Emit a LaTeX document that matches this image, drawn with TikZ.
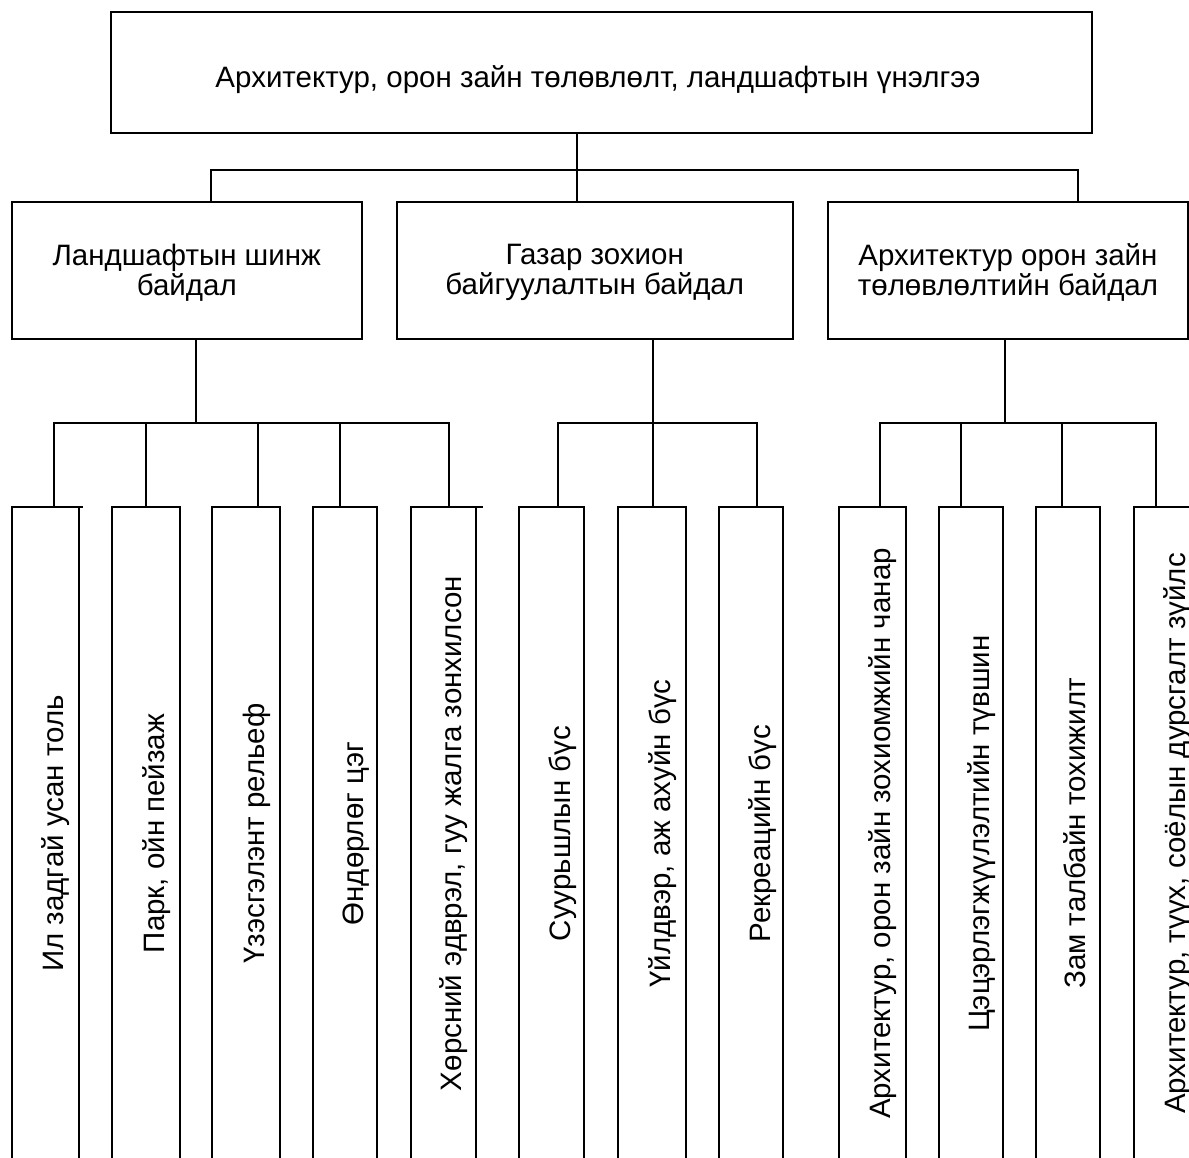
\documentclass[tikz,border=0pt]{standalone}
\usepackage{fontspec}
\setmainfont{Liberation Sans}
\usetikzlibrary{calc}
\begin{document}
\begin{tikzpicture}[x=1pt,y=-1pt,
  box/.style={draw, line width=2pt, inner sep=0pt, outer sep=0pt, anchor=north west},
  conn/.style={line width=2pt, line cap=rect},
  hlbl/.style={font=\fontsize{29.5}{29.5}\selectfont, align=center, inner sep=0pt},
  vlbl/.style={font=\fontsize{29.5}{32}\selectfont, rotate=90, anchor=base, inner sep=0pt},
]
\useasboundingbox (0,0) rectangle (1189,1157);
\clip (0,0) rectangle (1189,1157);
\fill[white] (0,0) rectangle (1189,1157);

% top box
\node[box, minimum width=981pt, minimum height=121pt] (top) at (111,12) {};
\node[hlbl, anchor=base] (toptxt) at (598,87) {Архитектур, орон зайн төлөвлөлт, ландшафтын үнэлгээ};

% second level
\node[box, minimum width=350.5pt, minimum height=137pt] (b1) at (11.5,202) {};
\node[box, minimum width=395.5pt, minimum height=137pt] (b2) at (397,202) {};
\node[box, minimum width=360pt, minimum height=137pt] (b3) at (828,202) {};
\node[hlbl] (b1t) at ([yshift=-2pt]b1.center) {Ландшафтын шинж\\байдал};
\node[hlbl] (b2t) at ([yshift=-2pt]b2.center) {Газар зохион\\байгуулалтын байдал};
\node[hlbl] (b3t) at ([yshift=-2pt]b3.center) {Архитектур орон зайн\\төлөвлөлтийн байдал};

% level 1 connectors
\coordinate (h0) at (577,170);
\coordinate (h1) at (211,170);
\coordinate (h3) at (1078,170);
\draw[conn] (top.south -| h0) -- (h0);
\draw[conn] (h1) -- (h3);
\draw[conn] (h1) -- (h1 |- b1.north);
\draw[conn] (h0) -- (h0 |- b2.north);
\draw[conn] (h3) -- (h3 |- b3.north);

% third level boxes
\foreach \n/\x/\w in {a/12/67, b/112/68, c/212/68, d/313/64, e/411/65,
                      f/519/64.5, g/617.5/68.5, h/719/64,
                      i/838.6/67.4, j/939/64, k/1035.7/63.8, l/1134/66}
  \node[box, minimum width=\w pt, minimum height=653pt] (\n) at (\x,507) {};

% small overhangs of top edges
\draw[line width=2pt] (a.north east) -- ++(4,0);
\draw[line width=2pt] (e.north east) -- ++(7,0);

% group connectors
\coordinate (g1) at (196,423);
\coordinate (g2) at (652.5,423);
\coordinate (g3) at (1005,423);
\draw[conn] (b1.south -| g1) -- (g1);
\draw[conn] (b2.south -| g2) -- (g2);
\draw[conn] (b3.south -| g3) -- (g3);
\draw[conn] (54,423 |- g1) -- (449,423 |- g1);
\draw[conn] (558,423 |- g2) -- (757,423 |- g2);
\draw[conn] (880,423 |- g3) -- (1156,423 |- g3);
\foreach \x/\n in {54/a, 146/b, 258/c, 340/d, 449/e,
                   558/f, 652.5/g, 757/h,
                   880/i, 961/j, 1061.5/k, 1156/l}
  \draw[conn] (\x,423) -- (\x,423 |- \n.north);

% rotated labels
\node[vlbl] (ta) at ([xshift=18pt]a.center) {Ил задгай усан толь};
\node[vlbl] (tb) at ([xshift=18pt]b.center) {Парк, ойн пейзаж};
\node[vlbl] (tc) at ([xshift=18pt]c.center) {Үзэсгэлэнт рельеф};
\node[vlbl] (td) at ([xshift=18pt]d.center) {Өндөрлөг цэг};
\node[vlbl] (te) at ([xshift=18pt]e.center) {Хөрсний эдврэл, гуу жалга зонхилсон};
\node[vlbl] (tf) at ([xshift=19pt]f.center) {Суурьшлын бүс};
\node[vlbl] (tg) at ([xshift=19pt]g.center) {Үйлдвэр, аж ахуйн бүс};
\node[vlbl] (th) at ([xshift=19pt]h.center) {Рекреацийн бүс};
\node[vlbl] (ti) at ([xshift=18pt]i.center) {Архитектур, орон зайн зохиомжийн чанар};
\node[vlbl] (tj) at ([xshift=18pt]j.center) {Цэцэрлэгжүүлэлтийн түвшин};
\node[vlbl] (tk) at ([xshift=18pt]k.center) {Зам талбайн тохижилт};
\node[vlbl] (tl) at ([xshift=18pt]l.center) {Архитектур, түүх, соёлын дурсгалт зүйлс};
\end{tikzpicture}
\end{document}
